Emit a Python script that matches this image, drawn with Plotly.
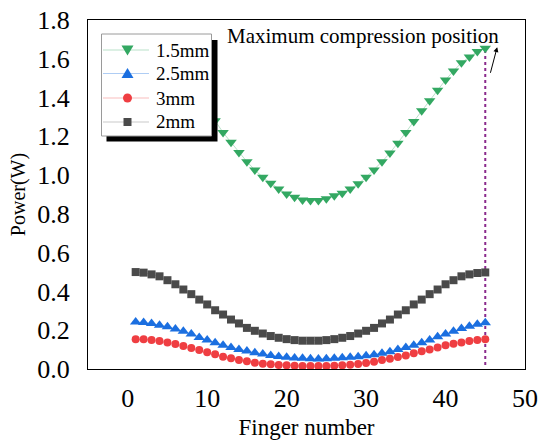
import plotly.graph_objects as go

finger = list(range(1, 46))

p_15mm = [1.660, 1.654, 1.637, 1.609, 1.580, 1.537, 1.491, 1.438, 1.383, 1.332,
          1.280, 1.220, 1.169, 1.117, 1.069, 1.027, 0.989, 0.958, 0.929, 0.903,
          0.886, 0.872, 0.869, 0.869, 0.878, 0.893, 0.907, 0.929, 0.955, 0.989,
          1.027, 1.069, 1.114, 1.164, 1.220, 1.277, 1.332, 1.383, 1.438, 1.491,
          1.537, 1.580, 1.609, 1.637, 1.654]

p_25mm = [0.243, 0.240, 0.235, 0.226, 0.218, 0.206, 0.195, 0.180, 0.163, 0.149,
          0.135, 0.123, 0.111, 0.101, 0.093, 0.084, 0.077, 0.070, 0.065, 0.060,
          0.057, 0.055, 0.053, 0.051, 0.053, 0.055, 0.058, 0.060, 0.063, 0.068,
          0.074, 0.081, 0.089, 0.101, 0.111, 0.123, 0.135, 0.149, 0.166, 0.180,
          0.195, 0.209, 0.221, 0.231, 0.238]

p_3mm = [0.154, 0.153, 0.149, 0.144, 0.137, 0.129, 0.118, 0.108, 0.098, 0.086,
         0.076, 0.063, 0.055, 0.046, 0.040, 0.032, 0.027, 0.024, 0.021, 0.019,
         0.017, 0.015, 0.015, 0.015, 0.015, 0.017, 0.019, 0.022, 0.026, 0.031,
         0.038, 0.046, 0.053, 0.062, 0.070, 0.081, 0.091, 0.101, 0.111, 0.122,
         0.130, 0.137, 0.144, 0.149, 0.153]

p_2mm = [0.500, 0.497, 0.488, 0.478, 0.458, 0.437, 0.410, 0.386, 0.358, 0.333,
         0.303, 0.281, 0.255, 0.235, 0.212, 0.197, 0.183, 0.170, 0.161, 0.154,
         0.149, 0.146, 0.146, 0.146, 0.149, 0.154, 0.161, 0.170, 0.183, 0.197,
         0.212, 0.235, 0.255, 0.281, 0.303, 0.333, 0.358, 0.386, 0.410, 0.437,
         0.458, 0.478, 0.488, 0.495, 0.498]

x_ticks = [0, 10, 20, 30, 40, 50]
y_ticks = [0.0, 0.2, 0.4, 0.6, 0.8, 1.0, 1.2, 1.4, 1.6, 1.8]

FONT = "Liberation Serif"

series = [
    ("1.5mm", p_15mm, "#33a862", "rgba(51,168,98,0.35)", "triangle-down", 10),
    ("2.5mm", p_25mm, "#1b6fe0", "rgba(27,111,224,0.35)", "triangle-up", 10),
    ("3mm", p_3mm, "#ef3e42", "rgba(239,62,66,0.35)", "circle", 8),
    ("2mm", p_2mm, "#4a4a4a", "rgba(74,74,74,0.3)", "square", 8),
]

# plot-area geometry (pixels) used to place the hand-drawn legend box
W, H = 552, 442
ML, MR, MT, MB = 88, 27, 20, 73
PW, PH = W - ML - MR, H - MT - MB


def px(xp):
    return (xp - ML) / PW


def py(yp):
    return (H - MB - yp) / PH


fig = go.Figure()

fig.add_trace(go.Scatter(
    x=[finger[-1], finger[-1]], y=[0.02, p_15mm[-1]],
    mode="lines", line=dict(color="#8a2a8c", width=2, dash="dot"),
    showlegend=False, hoverinfo="skip"))

for name, vals, col, lcol, sym, sz in series:
    fig.add_trace(go.Scatter(
        x=finger, y=vals, name=name, mode="lines+markers",
        line=dict(color=lcol, width=1),
        marker=dict(symbol=sym, size=sz, color=col, line=dict(width=0)),
        showlegend=False,
    ))

fig.add_annotation(
    x=29.6, y=1.72, xref="x", yref="y", text="Maximum compression position",
    showarrow=False, font=dict(family=FONT, size=21, color="black"))
fig.add_annotation(
    x=46.5, y=1.66, ax=45.6, ay=1.52, xref="x", yref="y", axref="x", ayref="y",
    text="", showarrow=True, arrowhead=2, arrowsize=1, arrowwidth=1, arrowcolor="black")

# ---- legend box with drop shadow ----
fig.add_shape(type="rect", xref="paper", yref="paper",
              x0=px(106.5), x1=px(217.5), y0=py(141.5), y1=py(40),
              fillcolor="black", line=dict(width=0), layer="above")
fig.add_shape(type="rect", xref="paper", yref="paper",
              x0=px(101.5), x1=px(211.5), y0=py(136), y1=py(34),
              fillcolor="white", line=dict(color="#9a9a9a", width=1), layer="above")

row_y = [50, 73.5, 98, 122]
for (name, vals, col, lcol, sym, sz), ry in zip(series, row_y):
    fig.add_shape(type="line", xref="paper", yref="paper",
                  x0=px(103), x1=px(149), y0=py(ry), y1=py(ry),
                  line=dict(color=lcol, width=1), layer="above")
    cx = 127.5
    if sym == "triangle-down":
        path = (f"M {px(cx-6)} {py(ry-4.5)} L {px(cx+6)} {py(ry-4.5)} "
                f"L {px(cx)} {py(ry+5.5)} Z")
        fig.add_shape(type="path", xref="paper", yref="paper", path=path,
                      fillcolor=col, line=dict(width=0), layer="above")
    elif sym == "triangle-up":
        path = (f"M {px(cx-6)} {py(ry+4.5)} L {px(cx+6)} {py(ry+4.5)} "
                f"L {px(cx)} {py(ry-5.5)} Z")
        fig.add_shape(type="path", xref="paper", yref="paper", path=path,
                      fillcolor=col, line=dict(width=0), layer="above")
    elif sym == "circle":
        fig.add_shape(type="circle", xref="paper", yref="paper",
                      x0=px(cx-4.5), x1=px(cx+4.5), y0=py(ry+4.5), y1=py(ry-4.5),
                      fillcolor=col, line=dict(width=0), layer="above")
    else:
        fig.add_shape(type="rect", xref="paper", yref="paper",
                      x0=px(cx-4), x1=px(cx+4), y0=py(ry+4), y1=py(ry-4),
                      fillcolor=col, line=dict(width=0), layer="above")
    fig.add_annotation(x=px(154), y=py(ry), xref="paper", yref="paper",
                       text=name, showarrow=False, xanchor="left", yanchor="middle",
                       font=dict(family=FONT, size=19, color="black"))

fig.update_layout(
    width=W, height=H,
    margin=dict(l=ML, r=MR, t=MT, b=MB),
    paper_bgcolor="white", plot_bgcolor="white",
    font=dict(family=FONT, color="black"),
    showlegend=False,
    xaxis=dict(range=[-5, 50], tickvals=x_ticks, ticktext=[str(v) for v in x_ticks],
               showgrid=False, zeroline=False, showline=True, linecolor="black",
               linewidth=1, mirror=True, ticks="", ticklabelstandoff=6, automargin=False,
               tickfont=dict(family=FONT, size=26),
               title=dict(text="Finger number", font=dict(family=FONT, size=23), standoff=6)),
    yaxis=dict(range=[0, 1.8], tickvals=y_ticks, ticktext=[f"{v:.1f}" for v in y_ticks],
               showgrid=False, zeroline=False, showline=True, linecolor="black",
               linewidth=1, mirror=True, ticks="", ticklabelstandoff=12, automargin=False,
               tickfont=dict(family=FONT, size=26),
               title=dict(text="Power(W)", font=dict(family=FONT, size=20), standoff=6)),
)

fig.write_html("out.html")
